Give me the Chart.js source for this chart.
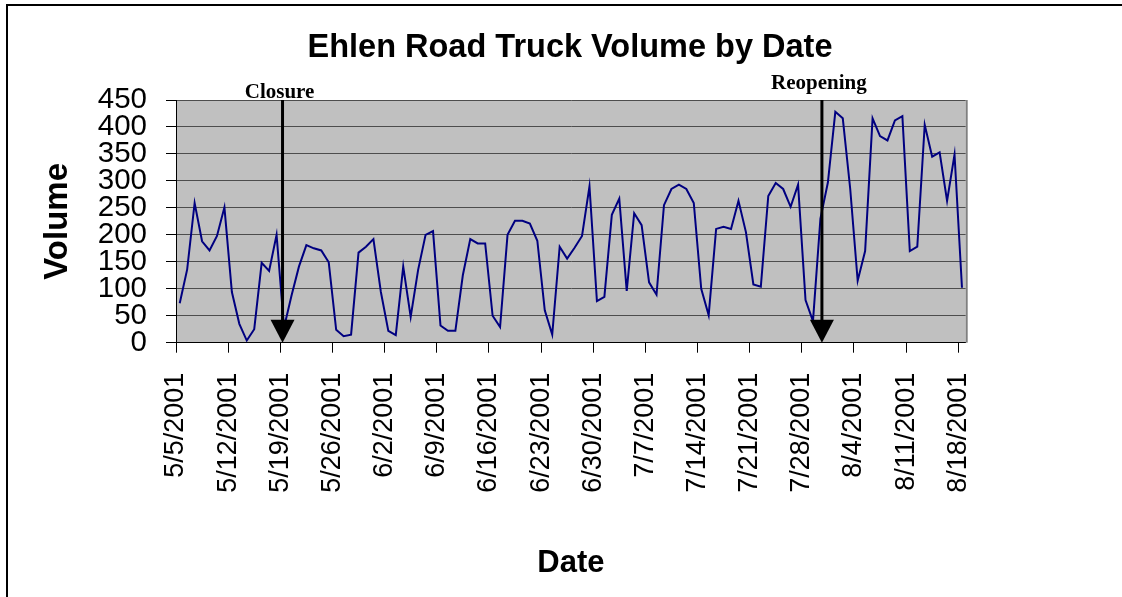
<!DOCTYPE html>
<html lang="en">
<head>
  <meta charset="UTF-8" />
  <title>Ehlen Road Truck Volume by Date</title>
  <script src="https://cdn.jsdelivr.net/npm/chart.js"></script>
  <style>
    html, body { margin: 0; padding: 0; background: #fff; }
    #chart { display: block; }
  </style>
</head>
<body>
  <canvas id="chart" width="1122" height="597"></canvas>

  <script>
    // one tick every 7 days, starting 5/5/2001
    const tickLabels = ['5/5/2001', '5/12/2001', '5/19/2001', '5/26/2001', '6/2/2001', '6/9/2001',
      '6/16/2001', '6/23/2001', '6/30/2001', '7/7/2001', '7/14/2001', '7/21/2001', '7/28/2001',
      '8/4/2001', '8/11/2001', '8/18/2001'];

    // daily truck counts, 5/5/2001 .. 8/18/2001
    const volumes = [
      73, 136, 259, 188, 171, 198, 251, 94, 35, 4, 25, 148, 133, 200,      // 5/5 - 5/18
      28, 87, 141, 181, 175, 171, 149, 24, 12, 15, 167, 178, 192, 94,      // 5/19 - 6/1
      22, 14, 141, 48, 135, 200, 207, 32, 22, 22, 125, 192, 184, 184,      // 6/2 - 6/15
      50, 29, 200, 226, 226, 221, 189, 60, 15, 178, 156, 176, 198, 290,    // 6/16 - 6/29
      77, 85, 237, 267, 96, 240, 218, 112, 89, 255, 285, 293, 285, 259,    // 6/30 - 7/13
      100, 51, 211, 215, 211, 263, 205, 108, 104, 272, 296, 285, 252, 293, // 7/14 - 7/27
      79, 40, 230, 297, 428, 416, 285, 115, 170, 416, 383, 375, 412, 420,  // 7/28 - 8/10
      170, 178, 404, 345, 353, 263, 349, 102                               // 8/11 - 8/18
    ];

    // events, in days after 5/5/2001
    const events = [
      { day: 14.3, text: 'Closure' },
      { day: 86.7, text: 'Reopening' }
    ];

    const sans = "'Liberation Sans', Arial, sans-serif";
    const serif = "'Liberation Serif', 'Times New Roman', serif";

    const plotBg = {
      id: 'plotBg',
      beforeDraw(chart) {
        const { ctx, chartArea: a } = chart;
        ctx.save();
        // outer frame (only left and top edges are in view)
        ctx.strokeStyle = '#000';
        ctx.lineWidth = 2;
        ctx.beginPath();
        ctx.moveTo(7, 597);
        ctx.lineTo(7, 5);
        ctx.lineTo(1122, 5);
        ctx.stroke();
        ctx.fillStyle = '#c0c0c0';
        ctx.fillRect(a.left, a.top, a.right - a.left, a.bottom - a.top);
        ctx.restore();
      },
      afterDraw(chart) {
        const { ctx, chartArea: a } = chart;
        ctx.save();
        ctx.strokeStyle = '#808080';
        ctx.lineWidth = 2;
        ctx.beginPath();
        ctx.moveTo(a.right + 1, a.top);
        ctx.lineTo(a.right + 1, a.bottom);
        ctx.stroke();
        ctx.restore();
      }
    };

    const arrows = {
      id: 'arrows',
      afterDatasetsDraw(chart) {
        const { ctx, scales: { x, y } } = chart;
        const top = y.getPixelForValue(450);
        const bottom = y.getPixelForValue(0);
        ctx.save();
        events.forEach((ev, i) => {
          const px = x.getPixelForValue(ev.day);
          ctx.strokeStyle = '#000';
          ctx.fillStyle = '#000';
          ctx.lineWidth = 3;
          ctx.beginPath();
          ctx.moveTo(px, top);
          ctx.lineTo(px, bottom - 22);
          ctx.stroke();
          ctx.beginPath();
          ctx.moveTo(px - 12, bottom - 23);
          ctx.lineTo(px + 12, bottom - 23);
          ctx.lineTo(px, bottom);
          ctx.closePath();
          ctx.fill();
          ctx.font = 'bold 21px ' + serif;
          ctx.textAlign = 'center';
          ctx.textBaseline = 'alphabetic';
          ctx.fillText(ev.text, px - 3, i === 0 ? top - 2 : top - 11);
        });
        ctx.restore();
      }
    };

    new Chart(document.getElementById('chart'), {
      type: 'line',
      data: {
        datasets: [{
          data: volumes.map((v, i) => ({ x: i + 0.5, y: v })),
          borderColor: '#000080',
          borderWidth: 2,
          pointRadius: 0,
          tension: 0,
          fill: false
        }]
      },
      options: {
        responsive: false,
        animation: false,
        layout: { padding: { left: 18, right: 0, top: 0, bottom: 0 } },
        plugins: {
          legend: { display: false },
          tooltip: { enabled: false },
          title: {
            display: true,
            text: 'Ehlen Road Truck Volume by Date',
            color: '#000',
            font: { family: sans, size: 32.5, weight: 'bold' },
            padding: { top: 29, bottom: 32 }
          }
        },
        scales: {
          x: {
            type: 'linear',
            min: 0,
            max: 106,
            afterBuildTicks: s => { s.ticks = tickLabels.map((_, i) => ({ value: i * 7 })); },
            afterFit: s => { s.height = 254.3; },
            ticks: {
              callback: v => tickLabels[Math.round(v / 7)],
              autoSkip: false,
              minRotation: 90,
              maxRotation: 90,
              padding: 20,
              color: '#000',
              font: { family: sans, size: 27 }
            },
            grid: { drawOnChartArea: false, tickLength: 10, tickColor: '#000' },
            border: { color: '#000', width: 1 },
            title: {
              display: true,
              text: 'Date',
              color: '#000',
              font: { family: sans, size: 31, weight: 'bold' },
              padding: { top: 0, bottom: 15 }
            }
          },
          y: {
            min: 0,
            max: 450,
            afterFit: s => { s.width = 158; },
            ticks: {
              stepSize: 50,
              autoSkip: false,
              padding: 19,
              color: '#000',
              font: { family: sans, size: 29.5 }
            },
            grid: { color: '#4d4d4d', tickLength: 10, tickColor: '#000' },
            border: { color: '#000', width: 1 },
            title: {
              display: true,
              text: 'Volume',
              color: '#000',
              font: { family: sans, size: 33, weight: 'bold' },
              padding: { top: 20, bottom: 0 }
            }
          },
          // empty right-hand strip, as in the original layout
          yRight: {
            position: 'right',
            afterFit: s => { s.width = 156.3; },
            ticks: { display: false },
            grid: { display: false },
            border: { display: false }
          }
        }
      },
      plugins: [plotBg, arrows]
    });
  </script>
</body>
</html>
